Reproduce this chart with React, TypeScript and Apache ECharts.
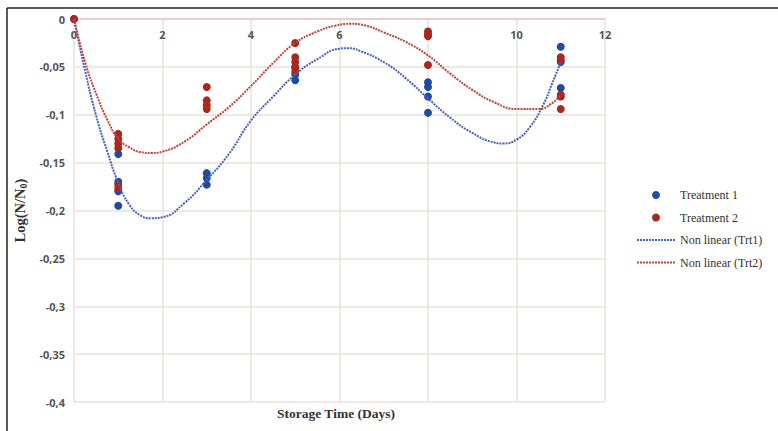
import React, { useEffect, useRef } from "react";
import * as echarts from "echarts";

const xTicks = [0, 2, 4, 6, 8, 10, 12];

const treatment1: [number, number][] = [
  [0, 0],
  [1, -0.141], [1, -0.17], [1, -0.18], [1, -0.195],
  [3, -0.161], [3, -0.166], [3, -0.173],
  [5, -0.051], [5, -0.058], [5, -0.064],
  [8, -0.066], [8, -0.071], [8, -0.081], [8, -0.098],
  [11, -0.029], [11, -0.045], [11, -0.072],
];

const treatment2: [number, number][] = [
  [0, 0],
  [1, -0.12], [1, -0.125], [1, -0.13], [1, -0.135], [1, -0.173], [1, -0.177],
  [3, -0.071], [3, -0.085], [3, -0.09], [3, -0.094],
  [5, -0.025], [5, -0.04], [5, -0.045], [5, -0.05], [5, -0.055],
  [8, -0.013], [8, -0.016], [8, -0.018], [8, -0.048],
  [11, -0.04], [11, -0.043], [11, -0.079], [11, -0.081], [11, -0.094],
];

const trend1: [number, number][] = [
  [0, 0], [0.25, -0.054], [0.5, -0.101], [0.75, -0.138], [1.0, -0.171],
  [1.25, -0.194], [1.5, -0.205], [1.75, -0.208], [2.0, -0.207], [2.5, -0.192],
  [3.0, -0.168], [3.5, -0.141], [4.0, -0.106], [4.5, -0.081], [5.0, -0.058],
  [5.5, -0.042], [6.0, -0.031], [6.2, -0.0305], [6.5, -0.034], [7.0, -0.045],
  [7.5, -0.062], [8.0, -0.083], [8.5, -0.103], [9.0, -0.119], [9.5, -0.129],
  [9.7, -0.13], [10.0, -0.126], [10.3, -0.113], [10.6, -0.09], [10.8, -0.068],
  [11.0, -0.045],
];

const trend2: [number, number][] = [
  [0, 0], [0.25, -0.045], [0.5, -0.078], [0.75, -0.105], [1.0, -0.125],
  [1.25, -0.134], [1.5, -0.139], [1.75, -0.14], [2.0, -0.1385], [2.5, -0.128],
  [3.0, -0.11], [3.5, -0.092], [4.0, -0.07], [4.5, -0.046], [5.0, -0.025],
  [5.5, -0.013], [5.9, -0.007], [6.25, -0.005], [6.6, -0.007], [7.0, -0.014],
  [7.5, -0.024], [8.0, -0.038], [8.5, -0.057], [9.0, -0.074], [9.5, -0.087],
  [10.0, -0.094], [10.5, -0.094], [10.8, -0.088], [11.0, -0.079],
];

const seriesNames = ["Treatment 1", "Treatment 2", "Non linear (Trt1)", "Non linear (Trt2)"];

export default function App() {
  const ref = useRef<HTMLDivElement>(null);
  useEffect(() => {
    if (!ref.current) return;
    const chart = echarts.init(ref.current, null, { renderer: "svg" });
    const serif = "Liberation Serif, serif";
    const legendText = { fontFamily: serif, fontSize: 12, color: "#333" };
    chart.setOption({
      animation: false,
      backgroundColor: "#ffffff",
      grid: { left: 74, top: 19, right: 173, bottom: 29, containLabel: false },
      xAxis: {
        type: "value",
        position: "top",
        min: xTicks[0],
        max: xTicks[xTicks.length - 1],
        interval: 2,
        axisLine: { show: true, onZero: false, lineStyle: { color: "#e9c3c0", width: 1.5 } },
        axisTick: { show: false },
        axisLabel: {
          inside: true,
          margin: 10,
          color: "#555",
          fontWeight: "bold",
          fontSize: 11,
          fontFamily: "Open Sans",
        },
        splitLine: { show: true, lineStyle: { color: "#e6e2df", width: 1.5 } },
      },
      yAxis: {
        type: "value",
        min: -0.4,
        max: 0,
        interval: 0.05,
        axisLine: { show: false },
        axisTick: { show: false },
        axisLabel: {
          margin: 9,
          color: "#555",
          fontWeight: "bold",
          fontSize: 11,
          fontFamily: "Open Sans",
          formatter: (v: number) => (v === 0 ? "0" : String(+v.toFixed(2)).replace(".", ",")),
        },
        splitLine: { show: true, lineStyle: { color: "#e6e2df", width: 1.5 } },
        name: "{a|Log(N/N}{b|0}{a|)}",
        nameLocation: "middle",
        nameRotate: 90,
        nameGap: 34,
        nameTextStyle: {
          rich: {
            a: { fontFamily: serif, fontWeight: "bold", fontSize: 14.5, color: "#333" },
            b: { fontFamily: serif, fontWeight: "bold", fontSize: 10, color: "#333", verticalAlign: "bottom", padding: [7, 0, 0, 0] },
          },
        },
      },
      legend: {
        orient: "vertical",
        left: 631,
        top: 184,
        itemWidth: 38,
        itemHeight: 8,
        itemGap: 10.5,
        textStyle: legendText,
        data: [
          { name: seriesNames[0], textStyle: legendText },
          { name: seriesNames[1], textStyle: legendText },
          { name: seriesNames[2], itemStyle: { opacity: 0 }, textStyle: legendText },
          { name: seriesNames[3], itemStyle: { opacity: 0 }, textStyle: legendText },
        ],
      },
      graphic: [
        { type: "line", shape: { x1: 7, y1: 8, x2: 7, y2: 440 }, style: { stroke: "#222", lineWidth: 1.5 } },
        { type: "line", shape: { x1: 7, y1: 8, x2: 790, y2: 8 }, style: { stroke: "#222", lineWidth: 1.5 } },
        {
          type: "text",
          left: 277,
          top: 406,
          style: { text: "Storage Time (Days)", font: "bold 13.5px Liberation Serif, serif", fill: "#333" },
        },
      ],
      series: [
        {
          name: seriesNames[0],
          type: "scatter",
          data: treatment1,
          symbol: "circle",
          symbolSize: 8,
          itemStyle: { color: "#1f4c9e", opacity: 1 },
          z: 2,
        },
        {
          name: seriesNames[1],
          type: "scatter",
          data: treatment2,
          symbol: "circle",
          symbolSize: 8,
          itemStyle: { color: "#a8271f", opacity: 1 },
          z: 3,
        },
        {
          name: seriesNames[2],
          type: "line",
          data: trend1,
          smooth: 0.5,
          showSymbol: false,
          symbol: "none",
          lineStyle: { color: "#4a62b3", width: 2, type: [2, 1] },
          itemStyle: { color: "#4a62b3" },
          z: 4,
        },
        {
          name: seriesNames[3],
          type: "line",
          data: trend2,
          smooth: 0.5,
          showSymbol: false,
          symbol: "none",
          lineStyle: { color: "#c0443a", width: 2, type: [2, 1] },
          itemStyle: { color: "#c0443a" },
          z: 4,
        },
      ],
    });
    return () => chart.dispose();
  }, []);
  return (
    <div
      ref={ref}
      style={{ position: "absolute", left: 0, top: 0, width: 778, height: 431, background: "#fff" }}
    />
  );
}
